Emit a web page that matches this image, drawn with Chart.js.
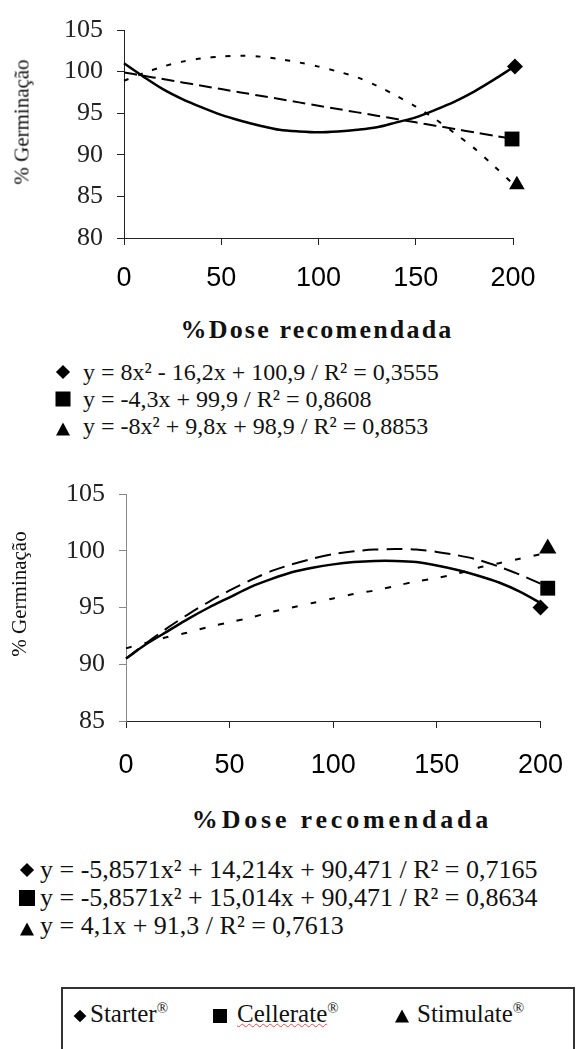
<!DOCTYPE html>
<html>
<head>
<meta charset="utf-8">
<script src="https://cdn.jsdelivr.net/npm/chart.js@4"></script>
<style>
  body { margin: 0; background: #fff; }
  #page { position: relative; width: 584px; height: 1049px; overflow: hidden; background: #fff; }
  canvas { position: absolute; left: 0; }
  .txt { position: absolute; white-space: nowrap; font-family: 'Liberation Serif', 'Times New Roman', Times, serif; color: #111; }
  .ytitle { font-size: 21px; transform: translate(-50%, -50%) rotate(-90deg); }
  .xtitle { font-size: 26px; font-weight: bold; transform: translate(-50%, -50%); }
  .eq { transform: translateY(-50%); }
  .mk { position: absolute; background: #000; }
  .dia { transform: translate(-50%, -50%) rotate(45deg); }
  .sq { transform: translate(-50%, -50%); }
  .tri { width: 0; height: 0; background: none; border-left: 7px solid transparent; border-right: 7px solid transparent; border-bottom: 13px solid #000; transform: translate(-50%, -50%); }
  #legend { position: absolute; left: 61px; top: 987px; width: 510px; height: 90px; border: 2px solid #333; }
  .reg { font-size: 60%; vertical-align: super; line-height: 0; }
</style>
</head>
<body>
<div id="page">
  <canvas id="chart1" width="584" height="300" style="top:0px"></canvas>
  <canvas id="chart2" width="584" height="320" style="top:460px"></canvas>
</div>
<script>
// dose (% of recommended) where the trend lines were read
const doses = [0, 10, 20, 30, 40, 50, 60, 70, 80, 90, 100, 110, 120, 130, 140, 150, 160, 170, 180, 190, 200];

// top chart
const starter1   = [101.0, 99.4, 97.9, 96.7, 95.7, 94.8, 94.1, 93.5, 93.0, 92.8, 92.7, 92.8, 93.0, 93.3, 93.9, 94.5, 95.4, 96.4, 97.6, 99.0, 100.5];
const cellerate1 = [99.9, 99.5, 99.1, 98.7, 98.3, 97.9, 97.5, 97.1, 96.7, 96.3, 95.9, 95.5, 95.1, 94.7, 94.3, 93.9, 93.5, 93.1, 92.7, 92.3, 91.9];
const stimulate1 = [98.9, 99.8, 100.6, 101.2, 101.6, 101.8, 101.9, 101.8, 101.5, 101.1, 100.6, 100.0, 99.3, 98.3, 97.1, 95.8, 94.3, 92.6, 90.8, 88.7, 86.5];
const markerDose1 = [201, 199.5, 202];
const markerVal1  = [100.6, 91.9, 86.4];

// bottom chart
const starter2   = [90.5, 91.8, 92.9, 94.0, 95.0, 95.9, 96.8, 97.5, 98.1, 98.5, 98.8, 99.0, 99.1, 99.1, 99.0, 98.7, 98.3, 97.8, 97.2, 96.4, 95.4];
const cellerate2 = [90.5, 91.9, 93.2, 94.4, 95.5, 96.5, 97.4, 98.2, 98.8, 99.3, 99.7, 99.95, 100.1, 100.15, 100.1, 99.9, 99.6, 99.2, 98.6, 97.9, 97.1];
const stimulate2 = [91.4, 91.9, 92.4, 92.8, 93.3, 93.7, 94.1, 94.6, 95.0, 95.4, 95.8, 96.2, 96.5, 96.9, 97.3, 97.6, 98.0, 98.5, 98.9, 99.3, 99.7];
const markerDose2 = [200, 203.5, 203.5];
const markerVal2  = [95.0, 96.7, 100.2];

const xTicks  = [0, 50, 100, 150, 200];
const yTicks1 = [80, 85, 90, 95, 100, 105];
const yTicks2 = [85, 90, 95, 100, 105];

const yTitle = '% Germinação';
const xTitle = '%Dose recomendada';
const products = ['Starter', 'Cellerate', 'Stimulate'];
const equations1 = ['y = 8x² - 16,2x + 100,9 / R² = 0,3555', 'y = -4,3x + 99,9 / R² = 0,8608', 'y = -8x² + 9,8x + 98,9 / R² = 0,8853'];
const equations2 = ['y = -5,8571x² + 14,214x + 90,471 / R² = 0,7165', 'y = -5,8571x² + 15,014x + 90,471 / R² = 0,8634', 'y = 4,1x + 91,3 / R² = 0,7613'];

const pts = (xs, ys) => xs.map((x, i) => ({ x: x, y: ys[i] }));

function makeChart(id, cfg) {
  const line = (vals, width, dash) => ({
    data: pts(doses, vals), showLine: true, borderColor: '#000', borderWidth: width,
    borderDash: dash, pointRadius: 0, tension: 0.3, clip: false
  });
  const mark = (i, style, r) => ({
    data: [{ x: cfg.markerDose[i], y: cfg.markerVal[i] }], pointStyle: style, pointRadius: r,
    backgroundColor: '#000', borderColor: '#000', borderWidth: 0, clip: false
  });
  return new Chart(document.getElementById(id), {
    type: 'scatter',
    data: {
      datasets: [
        line(cfg.starter, 2.5, []),
        line(cfg.cellerate, 2, cfg.dash),
        line(cfg.stimulate, 2, cfg.dot),
        mark(0, 'rectRot', 8),
        mark(1, 'rect', 10.5),
        mark(2, 'triangle', cfg.triR)
      ]
    },
    options: {
      responsive: false,
      animation: false,
      layout: { padding: { top: cfg.top, right: cfg.right, left: 0, bottom: 0 } },
      plugins: { legend: { display: false }, tooltip: { enabled: false } },
      scales: {
        x: {
          type: 'linear', min: 0, max: 200,
          afterBuildTicks: s => { s.ticks = xTicks.map(v => ({ value: v })); },
          afterFit: s => { s.height = cfg.xHeight; },
          grid: { drawOnChartArea: false, drawTicks: true, tickLength: 7, color: '#222' },
          border: { color: '#222', width: 1 },
          ticks: { color: '#000', padding: cfg.xPad, font: { family: "'Liberation Sans', Arial, sans-serif", size: 27 } }
        },
        y: {
          min: cfg.yTicks[0], max: cfg.yTicks[cfg.yTicks.length - 1],
          afterBuildTicks: s => { s.ticks = cfg.yTicks.map(v => ({ value: v })); },
          afterFit: s => { s.width = cfg.yWidth; },
          grid: { drawOnChartArea: false, drawTicks: true, tickLength: 7, color: cfg.yColor },
          border: { color: cfg.yColor, width: 1 },
          ticks: { color: '#222', padding: 14, font: { family: "'Liberation Serif', 'Times New Roman', serif", size: 26 } }
        }
      }
    }
  });
}

makeChart('chart1', {
  starter: starter1, cellerate: cellerate1, stimulate: stimulate1,
  markerDose: markerDose1, markerVal: markerVal1, yTicks: yTicks1,
  dash: [13, 6], dot: [5, 10], triR: 9,
  top: 30, right: 71, yWidth: 124, xHeight: 62, xPad: 17, yColor: '#222'
});
makeChart('chart2', {
  starter: starter2, cellerate: cellerate2, stimulate: stimulate2,
  markerDose: markerDose2, markerVal: markerVal2, yTicks: yTicks2,
  dash: [16, 8], dot: [6, 13], triR: 10,
  top: 34, right: 26, yWidth: 126, xHeight: 59, xPad: 21, yColor: '#888'
});

// text outside the plots: axis titles, equations, legend
const page = document.getElementById('page');
function addText(cls, html, left, top, size, extra) {
  const d = document.createElement('div');
  d.className = 'txt ' + cls;
  d.innerHTML = html;
  d.style.left = left + 'px';
  d.style.top = top + 'px';
  if (size) d.style.fontSize = size + 'px';
  if (extra) Object.assign(d.style, extra);
  page.appendChild(d);
  return d;
}
function addMarker(kind, cx, cy, s) {
  const m = document.createElement('div');
  m.className = 'mk ' + kind;
  m.style.left = cx + 'px';
  m.style.top = cy + 'px';
  if (kind !== 'tri') { m.style.width = s + 'px'; m.style.height = s + 'px'; }
  page.appendChild(m);
}
const kinds = ['dia', 'sq', 'tri'];

addText('ytitle', yTitle, 22, 122);
addText('xtitle', xTitle, 317, 330, 26, { letterSpacing: '2.2px' });
equations1.forEach((t, i) => {
  const cy = 372 + i * 27;
  addMarker(kinds[i], 63, cy + (i === 2 ? 3 : 0), kinds[i] === 'dia' ? 10 : 15);
  addText('eq', t, 83, cy, 24);
});

addText('ytitle', yTitle, 19, 594);
addText('xtitle', xTitle, 342, 820, 26, { letterSpacing: '3.8px' });
equations2.forEach((t, i) => {
  const cy = 870 + i * 28;
  addMarker(kinds[i], 27, cy + (i === 2 ? 3 : 0), kinds[i] === 'dia' ? 10 : 16);
  addText('eq', t, 40, cy, 26);
});

const lg = document.createElement('div');
lg.id = 'legend';
page.appendChild(lg);
const legendX = [[80, 90], [220, 237], [402, 417]];
products.forEach((p, i) => {
  addMarker(kinds[i], legendX[i][0], 1016, kinds[i] === 'dia' ? 9 : 14);
  const label = i === 1 ? '<span style="text-decoration: underline wavy #e05050; text-decoration-thickness: 1px;">' + p + '</span>' : p;
  addText('eq', label + '<span class="reg">®</span>', legendX[i][1], 1014, 25);
});
</script>
</body>
</html>
